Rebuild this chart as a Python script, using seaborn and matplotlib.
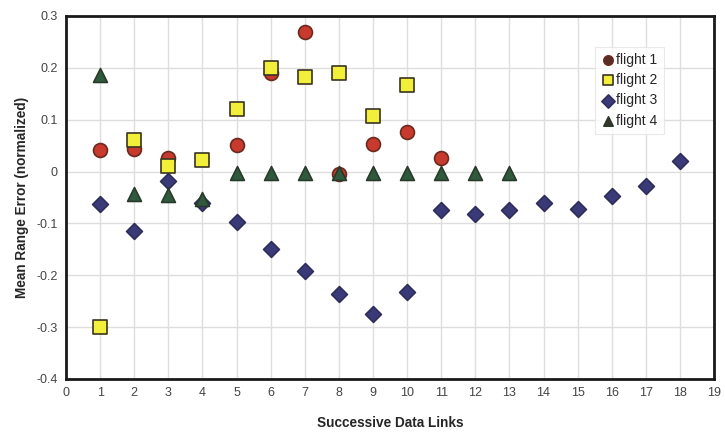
import pandas as pd
import seaborn as sns
import matplotlib.pyplot as plt

# values
f1_x = [1, 2, 3, 5, 6, 7, 8, 9, 10, 11]
f1_y = [0.041, 0.043, 0.027, 0.052, 0.19, 0.27, -0.004, 0.053, 0.077, 0.026]

f2_x = [1, 2, 3, 4, 5, 6, 7, 8, 9, 10]
f2_y = [-0.30, 0.061, 0.01, 0.023, 0.121, 0.20, 0.183, 0.19, 0.107, 0.167]

f3_x = list(range(1, 19))
f3_y = [-0.062, -0.115, -0.019, -0.06, -0.098, -0.15, -0.192, -0.237, -0.275,
        -0.233, -0.075, -0.082, -0.075, -0.06, -0.073, -0.047, -0.027, 0.021]

f4_x = list(range(1, 14))
f4_y = [0.187, -0.043, -0.045, -0.053, -0.003, -0.003, -0.003, -0.003, -0.003,
        -0.002, -0.003, -0.002, -0.002]

series = ['flight 1', 'flight 2', 'flight 3', 'flight 4']

df = pd.concat([
    pd.DataFrame({'x': f1_x, 'y': f1_y, 'series': 'flight 1'}),
    pd.DataFrame({'x': f2_x, 'y': f2_y, 'series': 'flight 2'}),
    pd.DataFrame({'x': f3_x, 'y': f3_y, 'series': 'flight 3'}),
    pd.DataFrame({'x': f4_x, 'y': f4_y, 'series': 'flight 4'}),
], ignore_index=True)

sns.set_style('white')
plt.rcParams['font.family'] = ['Liberation Sans', 'DejaVu Sans']

fig = plt.figure(figsize=(7.25, 4.32), dpi=100)
ax = fig.add_axes([0.091, 0.123, 0.894, 0.840])

palette = {'flight 1': '#c8392e', 'flight 2': '#f2ef3a',
           'flight 3': '#3b3a78', 'flight 4': '#2f5a3e'}
edges = {'flight 1': '#6a2a1e', 'flight 2': '#3a3320',
         'flight 3': '#2e2d5a', 'flight 4': '#2a3a2a'}
markers = {'flight 1': 'o', 'flight 2': 's', 'flight 3': 'D', 'flight 4': '^'}
sizes = {'flight 1': 100, 'flight 2': 95, 'flight 3': 65, 'flight 4': 100}

# draw each series so edge colours can differ
for s in series:
    sns.scatterplot(data=df[df.series == s], x='x', y='y', marker=markers[s],
                    color=palette[s], edgecolor=edges[s], linewidth=1.2,
                    s=sizes[s], label=s, ax=ax, zorder=3)

ax.set_xlim(0, 19)
ax.set_ylim(-0.4, 0.3)
ax.set_xticks(range(0, 20))
ax.set_yticks([-0.4, -0.3, -0.2, -0.1, 0, 0.1, 0.2, 0.3])
ax.set_yticklabels(['-0.4', '-0.3', '-0.2', '-0.1', '0', '0.1', '0.2', '0.3'])
ax.grid(True, color='#dedede', linewidth=1.0)
ax.set_axisbelow(True)
for sp in ax.spines.values():
    sp.set_color('#1a1a1a')
    sp.set_linewidth(2)
ax.tick_params(axis='both', labelsize=9, colors='#444444', length=0, pad=6)

ax.set_xlabel('Successive Data Links', fontsize=9.8, fontweight='bold', labelpad=12)
ax.set_ylabel('Mean Range Error (normalized)', fontsize=9.8, fontweight='bold', labelpad=5)

# legend markers are small and dark in the reference
leg = ax.legend(loc='upper right', bbox_to_anchor=(0.933, 0.935), fontsize=10,
                frameon=True, fancybox=False, handletextpad=0.1,
                borderpad=0.45, labelspacing=0.45, handlelength=1.0)
leg.get_frame().set_edgecolor('#e4e4e4')
leg.get_frame().set_linewidth(0.8)
leg_colors = ['#5a2e28', '#f2ef3a', '#3b3a78', '#3a3428']
for h, c in zip(leg.legend_handles, leg_colors):
    h.set_facecolor(c)
    h.set_sizes([45])

fig.savefig('out.png', dpi=100)
